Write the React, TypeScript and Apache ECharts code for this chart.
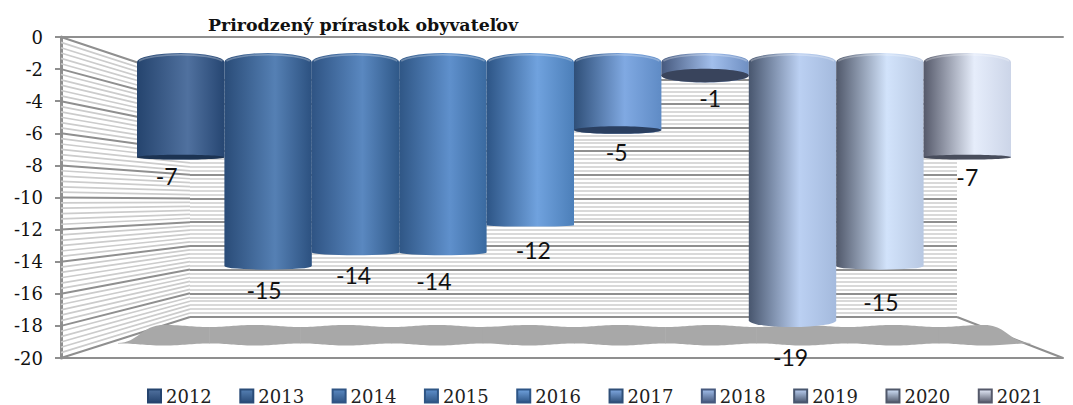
import React, { useEffect, useRef } from "react";
import * as echarts from "echarts";

const years = ["2012", "2013", "2014", "2015", "2016", "2017", "2018", "2019", "2020", "2021"];
const growth = [-7, -15, -14, -14, -12, -5, -1, -19, -15, -7];
const wallTicks = Array.from({ length: 61 }, (_, i) => i);

const shades: string[][] = [
  ["#25446e", "#50719f", "#264672"],
  ["#2a4c78", "#5580b4", "#2c5180"],
  ["#2f5484", "#5a88c0", "#2f5888"],
  ["#2f5685", "#5f90cc", "#3a6aa0"],
  ["#2d5586", "#70a2de", "#4c7fb9"],
  ["#2f4f78", "#80a9e2", "#5f8bc5"],
  ["#46597e", "#a2bfec", "#6f8fc2"],
  ["#48566e", "#bbd0f2", "#a4badd"],
  ["#50586a", "#d2e3fb", "#b8c8e2"],
  ["#55596a", "#e6edfb", "#ccd5e8"],
];
const bottoms = ["#1c3352", "#1f3a5e", "#223f66", "#25456e", "#27466e", "#2a3f60", "#39445c", "#3c4658", "#40485a", "#484d5c"];
const labelNudge: number[][] = [
  [-14, 19], [-4, 24], [-2, 23], [-9, 29], [3, 25], [-1, 22], [5, 22], [-2, 37], [1, 36], [0, 20],
];

const FRONT = { left: 61, top: 37, right: 1063, bottom: 358 };
const BACK = { left: 190, top: 80, right: 957, bottom: 317 };
const PLANE = { left: 137, top: 62, right: 1011, bottom: 334 };
const EYE = 200;
const MAJOR = "#8f8f8f";
const MINOR = "#cccccc";
const SERIF = "'DejaVu Serif', serif";

const gridOf = (r: typeof FRONT) => ({
  left: r.left,
  top: r.top,
  width: r.right - r.left,
  height: r.bottom - r.top,
  containLabel: false,
});

const App = () => {
  const ref = useRef<HTMLDivElement>(null);
  useEffect(() => {
    document.body.style.margin = "0";
    const chart = echarts.init(ref.current!, undefined, { renderer: "svg" });

    const wallSeries = {
      type: "custom",
      silent: true,
      xAxisIndex: 0,
      yAxisIndex: 0,
      z: 1,
      data: wallTicks.map((t) => [0, -t / 3]),
      clip: false,
      renderItem: (_: any, api: any) => {
        const v = api.value(1) as number;
        const front = api.coord([0, v]);
        const yBack = BACK.top + (-v / 20) * (BACK.bottom - BACK.top);
        const major = Math.abs(v / 2 - Math.round(v / 2)) < 1e-6;
        const line = (x1: number, y1: number, x2: number, y2: number, stroke: string) => ({
          type: "line",
          shape: { x1, y1, x2, y2 },
          style: { stroke, lineWidth: major ? 2 : 1.7 },
          z2: major ? 2 : 1,
        });
        const kids: any[] = [line(FRONT.left, front[1], BACK.left, yBack, major ? MAJOR : MINOR)];
        if (Math.abs(v + 20) < 1e-6) kids.push(line(BACK.right, BACK.bottom, FRONT.right, FRONT.bottom, MAJOR));
        return { type: "group", children: kids };
      },
    };

    const shadowSeries = {
      type: "custom",
      silent: true,
      xAxisIndex: 0,
      yAxisIndex: 0,
      z: 2,
      clip: false,
      data: years.map((y, i) => [i, -20]),
      renderItem: (_: any, api: any) => {
        const i = api.value(0) as number;
        const x0 = 118 + i * 91.2;
        const cx = x0 + 45.6;
        const x1 = x0 + 91.2;
        const cy = 335;
        const first = i === 0;
        const last = i === years.length - 1;
        const topL = first ? cy + 8 : cy - 8;
        const topR = last ? cy + 8 : cy - 8;
        const botL = cy + 8.5;
        const botR = cy + 8.5;
        const d =
          `M${x0} ${topL}C${x0 + 20} ${topL} ${cx - 22} ${cy - 10} ${cx} ${cy - 10}` +
          `C${cx + 22} ${cy - 10} ${x1 - 20} ${topR} ${x1 + 0.5} ${topR}` +
          `L${x1 + 0.5} ${botR}C${x1 - 20} ${botR} ${cx + 22} ${cy + 10.5} ${cx} ${cy + 10.5}` +
          `C${cx - 22} ${cy + 10.5} ${x0 + 20} ${botL} ${x0} ${botL}Z`;
        return { type: "path", shape: { pathData: d }, style: { fill: "#a8a8a8" } };
      },
    };

    const barSeries = years.map((year, i) => ({
      type: "custom",
      name: year,
      silent: true,
      xAxisIndex: 2,
      yAxisIndex: 2,
      z: 5 + i,
      clip: false,
      itemStyle: {
        color: new echarts.graphic.LinearGradient(0, 0, 0, 1, [
          { offset: 0, color: shades[i][1] },
          { offset: 1, color: shades[i][0] },
        ]),
        borderColor: shades[i][0],
        borderWidth: 1,
      },
      data: [[year, growth[i]]],
      renderItem: (_: any, api: any) => {
        const value = api.value(1) as number;
        const base = api.coord([year, 0]);
        const end = api.coord([year, value]);
        const w = api.size([1, 0])[0] / 2;
        const cx = base[0];
        const x0 = cx - w;
        const x1 = cx + w;
        const yT = base[1];
        const yB = end[1];
        const ryT = 9;
        const ryB = Math.max(0.8, Math.abs(EYE - yB) * 0.055);
        const fill = new echarts.graphic.LinearGradient(0, 0, 1, 0, [
          { offset: 0, color: shades[i][0] },
          { offset: 0.58, color: shades[i][1] },
          { offset: 1, color: shades[i][2] },
        ]);
        const kids: any[] = [
          {
            type: "path",
            shape: { pathData: `M${x0} ${yT}A${w} ${ryT} 0 0 1 ${x1} ${yT}L${x1} ${yB}A${w} ${ryB} 0 0 1 ${x0} ${yB}Z` },
            style: { fill },
          },
          {
            type: "path",
            shape: { pathData: `M${x0 + 2} ${yT - 1}A${w} ${ryT} 0 0 1 ${x1 - 2} ${yT - 1}` },
            style: { fill: "none", stroke: "rgba(255,255,255,0.28)", lineWidth: 1.5 },
          },
        ];
        if (yB < EYE) {
          kids.push({
            type: "ellipse",
            shape: { cx, cy: yB, rx: w, ry: ryB },
            style: { fill: bottoms[i] },
          });
        }
        kids.push({
          type: "text",
          z2: 50,
          style: {
            text: String(value),
            x: cx + labelNudge[i][0],
            y: yB + labelNudge[i][1],
            align: "center",
            verticalAlign: "middle",
            fontFamily: "Lato",
            fontSize: 23,
            fill: "#111",
          },
        });
        return { type: "group", children: kids };
      },
    }));

    chart.setOption({
      animation: false,
      backgroundColor: "#fff",
      title: {
        text: "Prirodzený prírastok obyvateľov",
        left: 208,
        top: 16,
        padding: 0,
        textStyle: { fontFamily: SERIF, fontWeight: "bold", fontSize: 17.4, color: "#111" },
      },
      legend: {
        left: 147,
        top: 387,
        padding: 0,
        itemWidth: 13,
        itemHeight: 13,
        itemGap: 27.5,
        icon: "rect",
        data: years,
        selectedMode: false,
        textStyle: { fontFamily: SERIF, fontSize: 18, lineHeight: 14, color: "#222" },
      },
      grid: [gridOf(FRONT), gridOf(BACK), gridOf(PLANE)],
      xAxis: [
        {
          type: "value", gridIndex: 0, min: 0, max: 1, position: "bottom",
          axisLine: { show: true, onZero: false, lineStyle: { color: MAJOR, width: 2 } },
          axisTick: { show: false }, axisLabel: { show: false }, splitLine: { show: false },
        },
        {
          type: "value", gridIndex: 1, min: 0, max: 1,
          axisLine: { show: false }, axisTick: { show: false }, axisLabel: { show: false }, splitLine: { show: false },
        },
        {
          type: "category", gridIndex: 2, data: years,
          axisLine: { show: false }, axisTick: { show: false }, axisLabel: { show: false }, splitLine: { show: false },
        },
        {
          type: "value", gridIndex: 0, min: 0, max: 1, position: "top",
          axisLine: { show: true, onZero: false, lineStyle: { color: MAJOR, width: 2 } },
          axisTick: { show: false }, axisLabel: { show: false }, splitLine: { show: false },
        },
      ],
      yAxis: [
        {
          type: "value", gridIndex: 0, min: -20, max: 0, interval: 2,
          axisLine: { show: true, onZero: false, lineStyle: { color: MAJOR, width: 3 } },
          axisTick: { show: true, length: 6, lineStyle: { color: MAJOR, width: 2 } },
          axisLabel: { margin: 18, fontFamily: SERIF, fontSize: 18, color: "#111" },
          splitLine: { show: false },
        },
        {
          type: "value", gridIndex: 1, min: -20, max: 0, interval: 2,
          axisLine: { show: false }, axisTick: { show: false }, axisLabel: { show: false },
          splitLine: { show: true, lineStyle: { color: MAJOR, width: 2 } },
          minorTick: { show: false, splitNumber: 6 },
          minorSplitLine: { show: true, lineStyle: { color: MINOR, width: 1.7 } },
        },
        {
          type: "value", gridIndex: 2, min: -20, max: 0, interval: 2,
          axisLine: { show: false }, axisTick: { show: false }, axisLabel: { show: false }, splitLine: { show: false },
        },
      ],
      series: [wallSeries, shadowSeries, ...barSeries],
    });
    return () => chart.dispose();
  }, []);
  return <div ref={ref} style={{ width: 1073, height: 405 }} />;
};

export default App;
